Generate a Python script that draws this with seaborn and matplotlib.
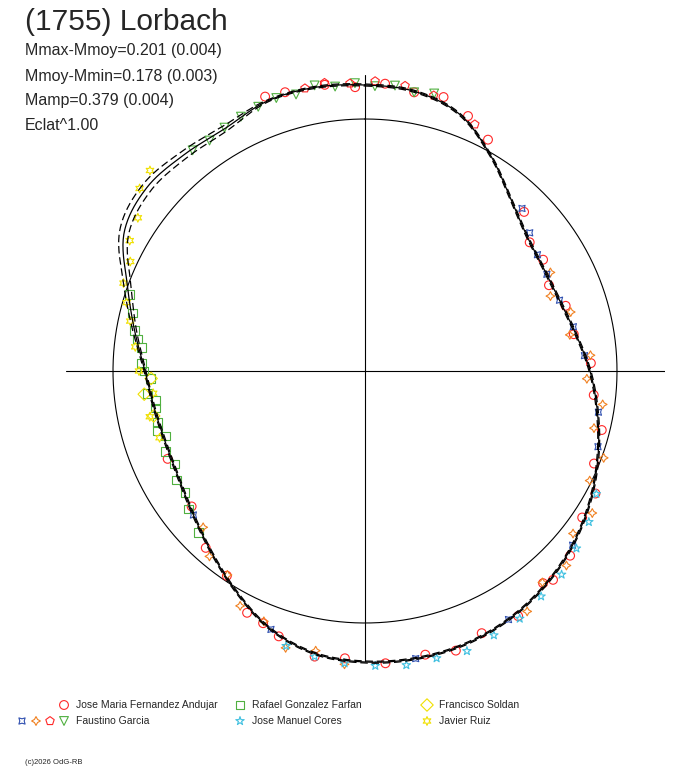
import numpy as np
import pandas as pd
import seaborn as sns
import matplotlib.pyplot as plt

# light curve fit, radius (plot units, reference circle = 252) every 10 deg of phase
fit_phase = np.arange(0, 360, 10)
fit_r = [286, 284, 274, 250, 226, 211, 206, 207, 214, 225, 236, 248, 260, 271, 280, 287, 291, 292,
         291, 287, 275, 256, 238, 224, 215, 212, 214, 220, 234, 253, 278, 285, 282, 280, 287, 288]
fit_err = [1, 1, 1, 1, 1, 1, 1, 1, 1, 1, 1, 1, 1, 1, 1, 1, 1, 1,
           1, 1, 1, 1, 1, 1, 1, 1, 1, 1, 2, 4, 5, 5, 4, 3, 1, 1]
ref_radius = 252

# observations: phase (deg) and radius
andujar_ph = [352, 358, 4, 10, 16, 22, 28, 45, 52, 58, 65, 72, 80, 88, 96, 104, 112, 118, 124, 132,
              140, 148, 156, 162, 168, 176, 184, 190, 198, 206, 214, 222, 232, 246, 202, 138, 340, 344]
andujar_r = [289, 284, 288, 283, 285, 275, 262, 225, 209, 210, 203, 211, 212, 226, 230, 244, 247, 261, 262, 276,
             277, 289, 287, 294, 290, 293, 288, 290, 279, 269, 247, 238, 220, 216, 272, 281, 292, 290]
farfan_ph = [226, 232, 236, 240, 244, 248, 252, 256, 260, 264, 268, 272, 276, 280, 284, 288, 254, 262, 270, 278]
farfan_r = [232, 224, 217, 218, 212, 215, 210, 214, 213, 219, 215, 224, 225, 234, 240, 248, 216, 211, 221, 230]
soldan_ph = [258, 264, 268]
soldan_r = [216, 222, 214]
garcia_tri_ph = [322, 326, 330, 334, 338, 342, 346, 350, 354, 358, 2, 6, 10, 14]
garcia_tri_r = [280, 278, 281, 283, 285, 287, 285, 290, 286, 288, 285, 287, 283, 286]
garcia_pent_ph = [348, 352, 357, 2, 8, 14, 24]
garcia_pent_r = [289, 291, 288, 290, 288, 284, 270]
garcia_star4_ph = [62, 68, 74, 80, 86, 92, 98, 104, 110, 116, 122, 128, 134, 140, 146,
                   184, 190, 196, 202, 208, 214, 220, 226]
garcia_star4_r = [210, 200, 214, 208, 226, 222, 240, 236, 254, 250, 268, 264, 280, 276, 290,
                  294, 284, 288, 270, 266, 246, 242, 225]
garcia_sq4_ph = [44, 50, 56, 62, 70, 78, 86, 100, 108, 130, 150, 170, 200, 230]
garcia_sq4_r = [226, 215, 208, 206, 207, 213, 220, 237, 245, 271, 287, 292, 275, 224]
cores_ph = [118, 124, 130, 136, 142, 148, 154, 160, 166, 172, 178, 184, 190, 196]
cores_r = [262, 270, 276, 283, 286, 292, 294, 298, 296, 297, 295, 293, 290, 286]
ruiz_ph = [252, 258, 264, 270, 276, 282, 286, 290, 295, 299, 304, 309, 313]
ruiz_r = [216, 220, 213, 226, 231, 240, 248, 257, 259, 269, 274, 290, 294]

observers = [
    ("Jose Maria Fernandez Andujar", andujar_ph, andujar_r, "o", "#ff2828"),
    ("Rafael Gonzalez Farfan", farfan_ph, farfan_r, "s", "#50b040"),
    ("Francisco Soldan", soldan_ph, soldan_r, "D", "#f0e000"),
    ("Faustino Garcia tri", garcia_tri_ph, garcia_tri_r, "v", "#50b040"),
    ("Faustino Garcia pent", garcia_pent_ph, garcia_pent_r, "p", "#ff2828"),
    ("Faustino Garcia star4", garcia_star4_ph, garcia_star4_r, (4, 1, 0), "#f08020"),
    ("Faustino Garcia sq4", garcia_sq4_ph, garcia_sq4_r, (4, 1, 45), "#3050b0"),
    ("Jose Manuel Cores", cores_ph, cores_r, "*", "#40c0e0"),
    ("Javier Ruiz", ruiz_ph, ruiz_r, (6, 1, 0), "#f0e000"),
]


def smooth_closed(vals, k=20):
    # periodic Catmull-Rom spline through equally spaced samples
    v = np.asarray(vals, float)
    m = len(v)
    s = np.linspace(0, 1, k, endpoint=False)
    out = []
    for i in range(m):
        p0, p1, p2, p3 = v[i - 1], v[i], v[(i + 1) % m], v[(i + 2) % m]
        out.append(0.5 * (2 * p1 + (-p0 + p2) * s + (2 * p0 - 5 * p1 + 4 * p2 - p3) * s ** 2
                          + (-p0 + 3 * p1 - 3 * p2 + p3) * s ** 3))
    return np.concatenate(out)


def to_xy(ph, r):
    a = np.radians(np.asarray(ph, float))
    r = np.asarray(r, float)
    return r * np.sin(a), r * np.cos(a)


sns.set_style("white")
plt.rcParams["font.family"] = ["Liberation Sans", "DejaVu Sans"]

fig = plt.figure(figsize=(6.88, 7.68), dpi=100)
ax = fig.add_axes([65 / 688, (768 - 671) / 768, 600 / 688, 600 / 768])
ax.set_xlim(-300, 300)
ax.set_ylim(-300, 300)
ax.set_aspect("equal")
ax.axis("off")

ax.plot([-299, 300], [0, 0], color="black", lw=0.8)
ax.plot([0, 0], [-290, 296], color="black", lw=0.8)

t = np.linspace(0, 2 * np.pi, 400)
ax.plot(ref_radius * np.sin(t), ref_radius * np.cos(t), color="black", lw=0.8)

# observations
for name, ph, r, mk, col in observers:
    x, y = to_xy(ph, r)
    df = pd.DataFrame({"x": x, "y": y})
    sns.scatterplot(data=df, x="x", y="y", ax=ax, marker=mk, s=40, facecolors="none",
                    edgecolor=col, linewidth=0.8, zorder=3)

# fit curve and envelope
k = 20
rf = smooth_closed(fit_r, k)
re = smooth_closed(fit_err, k)
ph_f = np.linspace(0, 360, len(rf), endpoint=False)
for rr, ls in [(rf, "-"), (rf + re, (0, (6, 3))), (rf - re, (0, (6, 3)))]:
    x, y = to_xy(np.append(ph_f, 360), np.append(rr, rr[0]))
    ax.plot(x, y, color="black", lw=0.9, ls=ls, zorder=4)
ax.set_xlabel("")
ax.set_ylabel("")

# header texts
fig.text(25 / 688, 1 - 22 / 768, "(1755) Lorbach", fontsize=21.5, va="center", ha="left")
for i, s in enumerate(["Mmax-Mmoy=0.201 (0.004)", "Mmoy-Mmin=0.178 (0.003)",
                       "Mamp=0.379 (0.004)", "Eclat^1.00"]):
    fig.text(25 / 688, 1 - (51 + 25 * i) / 768, s, fontsize=11.5, va="center", ha="left")

# legend
lax = fig.add_axes([0, 0, 1, 1], zorder=5)
lax.set_xlim(0, 688)
lax.set_ylim(768, 0)
lax.axis("off")
leg_items = [
    (68, 705, [("o", "#ff2828")], "Jose Maria Fernandez Andujar"),
    (244, 705, [("s", "#50b040")], "Rafael Gonzalez Farfan"),
    (431, 705, [("D", "#f0e000")], "Francisco Soldan"),
    (68, 721, [((4, 1, 45), "#3050b0"), ((4, 1, 0), "#f08020"), ("p", "#ff2828"), ("v", "#50b040")],
     "Faustino Garcia"),
    (244, 721, [("*", "#40c0e0")], "Jose Manuel Cores"),
    (431, 721, [((6, 1, 0), "#f0e000")], "Javier Ruiz"),
]
for x0, y0, marks, label in leg_items:
    nm = len(marks)
    for j, (mk, col) in enumerate(marks):
        lax.scatter(x0 - 14 * (nm - 1 - j) - 4, y0, marker=mk, s=40, facecolors="none",
                    edgecolors=col, linewidths=0.8)
    lax.text(x0 + 8, y0, label, fontsize=7.5, va="center", ha="left")
fig.text(25 / 688, 1 - 763 / 768, "(c)2026 OdG-RB", fontsize=5.5, va="center", ha="left")

fig.savefig("out.png", dpi=100, facecolor="white")
